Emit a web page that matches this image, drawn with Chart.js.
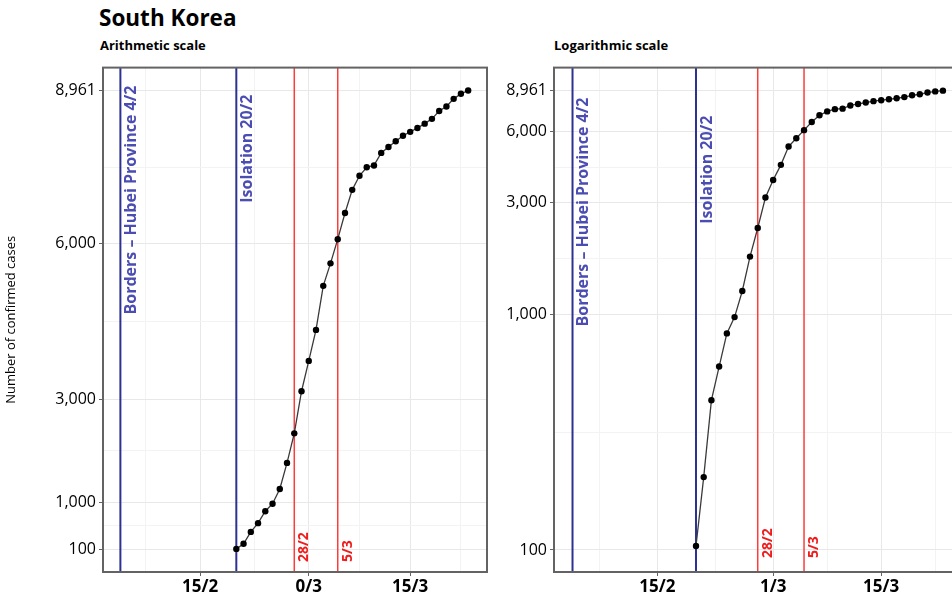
<!DOCTYPE html>
<html>
<head>
<meta charset="utf-8">
<script src="https://cdn.jsdelivr.net/npm/chart.js@4.4.1/dist/chart.umd.min.js"></script>
<style>
  html, body { margin: 0; padding: 0; background: #fff; overflow: hidden; width: 952px; height: 598px; }
  body { position: relative; font-family: 'Open Sans', sans-serif; color: #000; }
  .title { position: absolute; left: 99px; top: 2px; font-size: 22.5px; font-weight: 700; }
  .sub { position: absolute; top: 36px; font-size: 13px; font-weight: 700; }
  .panel { position: absolute; top: 55px; height: 543px; }
</style>
</head>
<body>
<div class="title">South Korea</div>
<div class="sub" style="left:100px">Arithmetic scale</div>
<div class="sub" style="left:554px">Logarithmic scale</div>
<div class="panel" style="left:0;width:500px"><canvas id="arith"></canvas></div>
<div class="panel" style="left:451px;width:525px"><canvas id="log"></canvas></div>
<script>
// Cumulative confirmed cases, one point per day.
const dates = ['20/2', '21/2', '22/2', '23/2', '24/2', '25/2', '26/2', '27/2', '28/2', '29/2',
  '1/3', '2/3', '3/3', '4/3', '5/3', '6/3', '7/3', '8/3', '9/3', '10/3', '11/3', '12/3',
  '13/3', '14/3', '15/3', '16/3', '17/3', '18/3', '19/3', '20/3', '21/3', '22/3', '23/3'];
const cases = [104, 204, 433, 602, 833, 977, 1261, 1766, 2337, 3150,
  3736, 4335, 5186, 5621, 6088, 6593, 7041, 7313, 7478, 7513, 7755, 7869,
  7979, 8086, 8162, 8236, 8320, 8413, 8565, 8652, 8799, 8897, 8961];

// Axes
const xTickDates = ['15/2', '1/3', '15/3'];
const xTickLabelsArith = ['15/2', '0/3', '15/3'];
const xTickLabelsLog = ['15/2', '1/3', '15/3'];
const yTickValues = [100, 1000, 3000, 6000, 8961];
const yTickLabels = ['100', '1,000', '3,000', '6,000', '8,961'];

// Interventions marked on both panels
const eventDates = ['4/2', '20/2', '28/2', '5/3'];
const eventTexts = ['Borders – Hubei Province 4/2', 'Isolation 20/2', '28/2', '5/3'];
const eventKinds = ['blue', 'blue', 'red', 'red'];

// day of year 2020 (leap year: 29/2 = 60)
function dayOf(label) {
  const [d, m] = label.split('/').map(Number);
  return m === 2 ? 31 + d : 60 + d;
}

const X_MIN = 32.6, X_MAX = 85.6;
const xMajor = xTickDates.map(dayOf);
// ggplot-style minor breaks half way between the majors
const xMinor = [xMajor[0] - 7.5, (xMajor[0] + xMajor[1]) / 2, (xMajor[1] + xMajor[2]) / 2, xMajor[2] + 7];

const GRID_MAJOR = '#e8e8e8';
const GRID_MINOR = '#f3f3f3';
const AXIS = '#636363';
const TICK_TEXT = '#000';

const markers = {
  id: 'markers',
  beforeDatasetsDraw(chart, args, opts) {
    const { ctx, chartArea: a, scales: { x } } = chart;
    ctx.save();
    eventDates.forEach((d, i) => {
      const px = x.getPixelForValue(dayOf(d));
      const blue = eventKinds[i] === 'blue';
      ctx.strokeStyle = blue ? '#2E3192' : '#FF3C3C';
      ctx.lineWidth = blue ? 2 : 1.5;
      ctx.beginPath();
      ctx.moveTo(px, a.top);
      ctx.lineTo(px, a.bottom);
      ctx.stroke();

      ctx.save();
      ctx.textBaseline = 'middle';
      if (blue) {
        ctx.translate(px + 11, a.top + opts.blueTops[i]);
        ctx.rotate(-Math.PI / 2);
        ctx.textAlign = 'right';
        ctx.fillStyle = '#4B4DB2';
        ctx.font = "700 16px 'Open Sans', sans-serif";
      } else {
        ctx.translate(px + 10, a.bottom - opts.redBottom);
        ctx.rotate(-Math.PI / 2);
        ctx.textAlign = 'left';
        ctx.fillStyle = '#F01C1C';
        ctx.font = "700 14px 'Open Sans', sans-serif";
      }
      ctx.fillText(eventTexts[i], 0, 0);
      ctx.restore();
    });
    ctx.restore();
  },
  afterDraw(chart) {
    const { ctx, chartArea: a } = chart;
    ctx.save();
    ctx.strokeStyle = AXIS;
    ctx.lineWidth = 2;
    ctx.strokeRect(a.left, a.top, a.width, a.height);
    ctx.restore();
  },
};

function xScale(labels) {
  return {
    type: 'linear',
    min: X_MIN,
    max: X_MAX,
    afterBuildTicks: (s) => { s.ticks = xMinor.concat(xMajor).sort((p, q) => p - q).map((v) => ({ value: v })); },
    afterFit: (s) => { s.height = 26; },
    border: { display: false },
    grid: {
      color: (c) => (c.tick && xMajor.includes(c.tick.value) ? GRID_MAJOR : GRID_MINOR),
      tickColor: (c) => (c.tick && xMajor.includes(c.tick.value) ? AXIS : 'transparent'),
      tickLength: 4,
    },
    ticks: {
      autoSkip: false,
      maxRotation: 0,
      padding: 1,
      color: TICK_TEXT,
      font: { family: "'Open Sans', sans-serif", size: 17, weight: 'bold' },
      callback: (v) => { const i = xMajor.indexOf(v); return i < 0 ? '' : labels[i]; },
    },
  };
}

function yScale(type, min, max, minor) {
  return {
    type,
    min,
    max,
    afterBuildTicks: (s) => { s.ticks = minor.concat(yTickValues).sort((p, q) => p - q).map((v) => ({ value: v })); },
    afterFit: (s) => { s.width = 103; },
    border: { display: false },
    grid: {
      color: (c) => (c.tick && yTickValues.includes(c.tick.value) ? GRID_MAJOR : GRID_MINOR),
      tickColor: (c) => (c.tick && yTickValues.includes(c.tick.value) ? AXIS : 'transparent'),
      tickLength: 4,
    },
    ticks: {
      autoSkip: false,
      padding: 3,
      color: TICK_TEXT,
      font: { family: "'Open Sans', sans-serif", size: 16 },
      callback: (v) => { const i = yTickValues.indexOf(v); return i < 0 ? '' : yTickLabels[i]; },
    },
    title: {
      display: type === 'linear',
      text: 'Number of confirmed cases',
      color: '#000',
      font: { family: "'Open Sans', sans-serif", size: 13 },
      padding: { top: 3, bottom: 0 },
    },
  };
}

function makePanel(id, yType, yMin, yMax, yMinor, xLabels, markerOpts) {
  return new Chart(document.getElementById(id), {
    type: 'line',
    data: {
      datasets: [{
        data: dates.map((d, i) => ({ x: dayOf(d), y: cases[i] })),
        borderColor: '#3a3a3a',
        borderWidth: 1.3,
        pointRadius: 3.2,
        pointBackgroundColor: '#000',
        pointBorderWidth: 0,
        tension: 0,
      }],
    },
    options: {
      responsive: true,
      maintainAspectRatio: false,
      animation: false,
      layout: { padding: { top: 10, right: 13, left: 0, bottom: 0 } },
      plugins: { legend: { display: false }, tooltip: { enabled: false }, markers: markerOpts },
      scales: { x: xScale(xLabels), y: yScale(yType, yMin, yMax, yMinor) },
    },
    plugins: [markers],
  });
}

makePanel('arith', 'linear', -342, 9403, [550, 2000, 4500, 7480], xTickLabelsArith,
  { blueTops: [18, 27], redBottom: 10 });
makePanel('log', 'logarithmic', 80.6, 11230, [316, 1732, 4243], xTickLabelsLog,
  { blueTops: [30, 48], redBottom: 14 });
</script>
</body>
</html>
